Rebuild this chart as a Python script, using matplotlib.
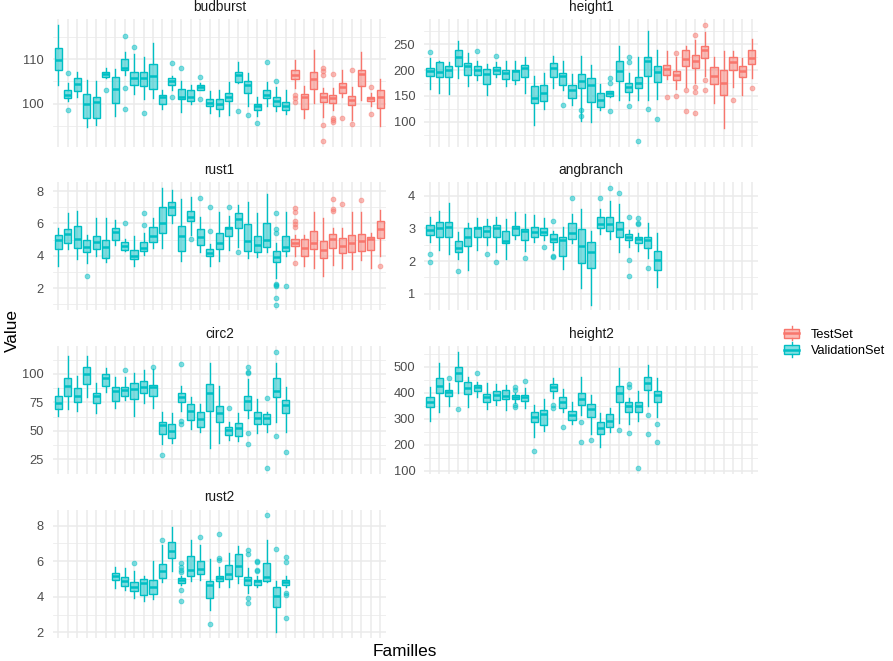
import matplotlib
matplotlib.use("Agg")
import matplotlib.pyplot as plt
from matplotlib.colors import to_rgba
from matplotlib.patches import Patch, Rectangle
from matplotlib.lines import Line2D
from matplotlib.legend_handler import HandlerBase

plt.rcParams['font.family'] = ['Liberation Sans', 'DejaVu Sans']

TEST_COLOR = '#F8766D'
VALID_COLOR = '#00BFC4'
GRID_COLOR = '#EBEBEB'

n_families = 35
test_families = list(range(26, 36))

# per family: (lower whisker, Q1, median, Q3, upper whisker)
budburst_first = 1
budburst_stats = [
    (104.3, 107.6, 109.7, 112.6, 117.7), (100.7, 101.3, 101.9, 103.1, 104.6),
    (101.6, 102.9, 104.4, 105.7, 107.2), (94.8, 96.9, 100.0, 102.2, 105.4),
    (95.2, 96.9, 100.4, 101.6, 105.0), (105.7, 106.0, 106.6, 107.1, 108.1),
    (97.3, 100.1, 103.3, 106.0, 107.8), (106.5, 107.6, 108.1, 110.0, 111.5),
    (102.2, 104.2, 105.7, 107.2, 111.2), (101.0, 103.9, 105.7, 107.2, 110.4),
    (101.2, 103.3, 106.3, 108.9, 113.6), (98.9, 99.9, 101.4, 102.0, 103.0),
    (103.1, 104.3, 105.0, 105.7, 106.2), (98.2, 101.0, 101.6, 103.3, 105.0),
    (100.0, 100.7, 101.5, 103.0, 104.3), (103.0, 103.1, 103.7, 104.2, 104.6),
    (97.9, 99.4, 100.1, 101.0, 102.8), (97.2, 98.9, 100.0, 101.0, 103.1),
    (97.5, 100.7, 101.5, 102.5, 104.8), (104.6, 104.8, 106.5, 107.1, 109.3),
    (99.4, 102.4, 104.2, 105.1, 106.9), (97.2, 98.5, 99.4, 99.9, 101.4),
    (99.4, 101.2, 102.0, 103.1, 104.8), (98.3, 99.4, 100.7, 101.6, 103.7),
    (97.7, 98.6, 99.4, 100.4, 103.1), (103.5, 105.5, 106.5, 107.5, 109.9),
    (96.7, 98.8, 101.4, 102.2, 103.9), (100.1, 103.3, 105.6, 107.2, 112.1),
    (97.0, 100.3, 101.4, 102.5, 103.5), (98.7, 100.1, 101.3, 102.0, 103.5),
    (101.6, 102.5, 103.7, 104.6, 107.6), (96.4, 99.8, 100.9, 101.8, 103.7),
    (100.9, 104.0, 106.7, 107.6, 111.7), (99.6, 100.7, 101.2, 101.6, 102.4),
    (95.1, 99.0, 101.4, 103.1, 105.5),
]
budburst_out = {
    2: [106.8, 98.6], 6: [103.1], 8: [115.2, 103.5, 98.8], 9: [112.8], 10: [97.9],
    13: [109.2, 101.4], 14: [108.1], 16: [106.1, 101.0], 20: [98.4], 21: [97.5],
    22: [95.7], 23: [109.3], 24: [105.1], 26: [101.9, 101.3, 100.3],
    29: [108.1, 107.4, 106.5, 95.3, 91.6], 30: [106.6, 96.8, 96.4, 96.0],
    31: [96.8], 32: [107.6, 95.5], 34: [103.7, 97.8],
}
budburst_ticks = [100, 110]

height1_first = 1
height1_stats = [
    (164.1, 189.1, 198.7, 203.8, 223.1), (155.8, 185.9, 196.2, 214.8, 216.7),
    (154.5, 185.9, 200.6, 207.1, 214.7), (184.6, 207.1, 225.0, 239.1, 256.4),
    (169.9, 190.4, 208.3, 213.5, 232.7), (181.4, 190.4, 200.0, 207.1, 216.7),
    (152.6, 173.7, 193.0, 201.9, 211.5), (186.5, 192.9, 200.6, 205.1, 214.7),
    (169.9, 183.3, 194.2, 200.6, 216.7), (173.7, 180.1, 197.4, 200.6, 218.0),
    (155.8, 186.5, 204.5, 210.3, 225.0), (94.9, 135.9, 146.2, 168.6, 187.8),
    (125.0, 141.0, 155.8, 171.8, 194.2), (165.4, 186.5, 203.8, 213.5, 226.3),
    (160.9, 171.8, 187.8, 194.2, 218.0), (132.4, 145.2, 162.2, 170.5, 192.9),
    (101.3, 165.4, 178.2, 192.9, 227.6), (99.4, 138.5, 171.8, 184.6, 209.0),
    (122.4, 128.2, 141.7, 155.8, 173.7), (148.0, 149.4, 155.8, 159.0, 160.0),
    (143.0, 178.2, 197.4, 216.7, 245.5), (143.0, 157.1, 167.3, 175.0, 194.2),
    (143.0, 165.4, 174.1, 186.9, 225.0), (143.0, 187.8, 216.7, 225.4, 274.4),
    (144.2, 177.6, 195.5, 207.1, 237.8), (182.7, 191.0, 201.9, 210.3, 235.9),
    (163.5, 181.4, 191.0, 198.7, 226.0), (167.3, 208.3, 221.2, 237.8, 246.8),
    (175.0, 204.5, 217.9, 229.5, 258.3), (187.8, 223.1, 239.1, 245.5, 272.4),
    (136.5, 173.7, 187.8, 205.1, 226.0), (88.5, 151.3, 175.0, 200.6, 235.9),
    (167.3, 200.6, 214.7, 224.4, 235.9), (152.6, 185.9, 198.7, 208.3, 223.1),
    (184.6, 212.2, 223.1, 237.8, 259.6),
]
height1_out = {
    1: [234.6], 6: [235.9], 8: [227.0], 15: [133.3], 17: [123.7, 112.2],
    20: [184.6, 175.0, 120.5], 22: [226.0, 215.7, 130.1], 23: [62.8], 24: [125.6],
    25: [105.8], 26: [148.7], 27: [232.7, 149.6], 28: [162.2, 120.5],
    29: [268.0, 167.7, 157.0, 117.3], 30: [287.2, 181.4, 161.6], 33: [142.3], 35: [164.7],
}
height1_ticks = [100, 150, 200, 250]

rust1_first = 1
rust1_stats = [
    (3.38, 4.43, 4.99, 5.29, 5.70), (4.41, 4.82, 5.33, 5.64, 6.63),
    (3.79, 4.47, 5.03, 5.85, 6.77), (3.55, 4.23, 4.53, 4.97, 5.29),
    (3.96, 4.43, 4.84, 5.25, 6.32), (3.59, 3.86, 4.53, 4.97, 6.32),
    (4.64, 4.99, 5.46, 5.70, 6.22), (4.27, 4.37, 4.62, 4.88, 5.03),
    (3.38, 3.79, 3.96, 4.37, 5.23), (4.04, 4.31, 4.47, 4.88, 5.40),
    (4.47, 4.88, 5.25, 5.75, 6.32), (4.47, 5.40, 6.05, 7.00, 8.17),
    (6.05, 6.53, 7.04, 7.31, 8.07), (3.65, 4.27, 5.25, 5.85, 7.49),
    (5.29, 6.16, 6.38, 6.79, 7.62), (4.21, 4.68, 5.15, 5.66, 6.42),
    (3.38, 3.96, 4.16, 4.43, 4.74), (3.69, 4.43, 4.78, 5.40, 6.73),
    (4.33, 5.23, 5.70, 5.81, 6.46), (4.57, 5.70, 6.28, 6.63, 7.14),
    (3.86, 4.27, 4.94, 5.97, 7.35), (3.92, 4.21, 4.64, 5.23, 6.63),
    (4.21, 4.53, 4.99, 6.05, 7.82), (2.62, 3.59, 3.92, 4.31, 4.78),
    (3.96, 4.27, 4.53, 5.25, 6.73), (4.00, 4.62, 4.82, 5.03, 5.29),
    (3.34, 3.96, 4.47, 5.03, 5.29), (3.24, 4.41, 4.82, 5.54, 6.73),
    (2.73, 3.86, 4.33, 4.94, 6.32), (3.45, 4.47, 5.03, 5.33, 5.70),
    (3.24, 4.16, 4.62, 5.09, 5.70), (3.18, 4.21, 4.78, 5.29, 6.73),
    (3.75, 4.27, 4.94, 5.36, 6.73), (3.24, 4.33, 5.03, 5.15, 5.40),
    (4.00, 5.09, 5.64, 6.16, 6.83),
]
rust1_out = {
    4: [2.73], 8: [6.01], 10: [6.67, 5.89], 15: [5.03], 16: [7.55], 17: [7.04, 5.54],
    19: [7.0], 20: [4.21], 24: [6.67, 5.64, 5.40, 2.26, 2.22, 2.16, 1.39, 0.98],
    25: [2.15], 26: [6.94, 6.69, 6.12, 5.97, 5.81, 3.55], 30: [7.51, 6.90, 6.79],
    31: [7.18], 33: [7.45], 35: [3.34],
}
rust1_ticks = [2, 4, 6, 8]

angbranch_first = 1
angbranch_stats = [
    (2.59, 2.80, 2.95, 3.09, 3.35), (2.34, 2.73, 3.00, 3.18, 3.54),
    (2.21, 2.75, 3.05, 3.20, 3.78), (2.07, 2.27, 2.39, 2.61, 2.88),
    (1.73, 2.47, 2.75, 3.00, 3.17), (2.34, 2.73, 3.00, 3.05, 3.30),
    (2.49, 2.73, 2.92, 3.07, 3.27), (2.29, 2.73, 3.00, 3.10, 3.35),
    (2.06, 2.54, 2.61, 2.93, 3.28), (2.67, 2.80, 3.00, 3.08, 3.49),
    (2.32, 2.63, 2.93, 2.97, 3.44), (2.59, 2.75, 2.88, 3.05, 3.41),
    (2.65, 2.80, 2.88, 3.02, 3.32), (2.34, 2.59, 2.68, 2.83, 2.93),
    (1.75, 2.14, 2.65, 2.72, 3.05), (2.56, 2.68, 2.85, 3.15, 3.43),
    (1.18, 1.94, 2.46, 2.97, 3.58), (0.67, 1.78, 2.29, 2.57, 2.92),
    (2.83, 3.00, 3.13, 3.33, 3.58), (2.68, 2.93, 3.13, 3.35, 3.84),
    (2.29, 2.75, 2.97, 3.20, 3.73), (2.44, 2.63, 2.75, 2.82, 2.95),
    (2.32, 2.54, 2.67, 2.72, 2.87), (2.09, 2.41, 2.63, 2.75, 3.17),
    (1.20, 1.73, 2.02, 2.32, 2.87),
]
angbranch_out = {
    1: [2.22, 1.96], 4: [1.70], 7: [2.21], 8: [1.96], 11: [2.09], 13: [2.42],
    14: [3.22, 2.16, 2.11], 16: [3.93], 19: [3.91], 20: [4.22], 21: [4.09],
    22: [3.35, 2.04, 1.53], 23: [3.30, 3.17, 3.12], 24: [1.78],
}
angbranch_ticks = [1, 2, 3, 4]

circ2_first = 1
circ2_stats = [
    (63.4, 69.2, 74.2, 80.9, 87.9), (69.2, 80.6, 89.7, 96.6, 115.6),
    (67.5, 75.1, 80.9, 87.9, 98.4), (79.4, 90.8, 99.6, 106.0, 115.6),
    (66.0, 74.2, 80.6, 82.9, 91.7), (84.4, 89.4, 96.1, 99.6, 105.4),
    (69.8, 76.2, 85.0, 88.2, 97.5), (77.1, 80.9, 85.6, 88.2, 97.5),
    (63.4, 78.0, 86.4, 92.3, 101.0), (74.2, 82.9, 88.8, 93.7, 103.1),
    (69.8, 80.6, 88.2, 90.2, 103.9), (38.3, 47.7, 55.2, 57.6, 66.3),
    (39.8, 44.2, 50.3, 55.8, 65.5), (67.5, 75.7, 79.4, 82.9, 89.4),
    (51.7, 59.6, 67.5, 73.6, 80.0), (49.4, 53.8, 60.2, 66.3, 73.6),
    (34.8, 67.5, 82.9, 91.1, 109.8), (39.2, 58.2, 65.5, 71.9, 89.4),
    (42.1, 46.5, 50.9, 53.8, 58.2), (41.3, 45.6, 52.3, 57.3, 65.5),
    (61.1, 68.4, 76.5, 80.9, 95.5), (48.5, 56.1, 61.1, 66.3, 77.7),
    (49.4, 56.1, 61.1, 64.6, 66.3), (58.2, 80.0, 85.3, 96.1, 109.2),
    (49.4, 65.5, 72.7, 77.1, 88.8),
]
circ2_out = {
    8: [103.1], 11: [105.7], 12: [29.0], 14: [108.6, 58.7, 56.1], 19: [69.8],
    21: [106.3, 101.9, 100.5, 48.5, 38.6], 23: [79.1, 17.3], 24: [119.4, 45.6],
    25: [31.9],
}
circ2_ticks = [25, 50, 75, 100]

height2_first = 1
height2_stats = [
    (292.0, 344.6, 362.5, 383.1, 423.1), (326.9, 397.4, 427.0, 455.1, 516.4),
    (349.7, 385.6, 401.3, 410.3, 435.9), (397.4, 444.9, 476.9, 500.0, 557.7),
    (346.2, 394.6, 417.7, 440.7, 459.0), (384.6, 404.8, 420.2, 428.0, 442.3),
    (337.2, 362.5, 383.1, 394.6, 438.5), (352.6, 372.8, 391.0, 407.7, 432.1),
    (333.3, 375.6, 387.2, 408.9, 429.5), (362.0, 375.6, 384.6, 391.0, 400.0),
    (342.3, 368.0, 384.6, 391.0, 416.7), (228.0, 286.9, 306.4, 326.9, 352.6),
    (253.6, 275.6, 316.7, 333.3, 376.6), (380.8, 407.7, 423.1, 434.6, 455.1),
    (326.9, 342.3, 365.4, 383.1, 413.8), (279.2, 294.9, 314.1, 330.5, 365.4),
    (312.4, 352.6, 375.6, 397.4, 458.7), (240.7, 304.8, 336.5, 357.7, 389.7),
    (192.3, 240.0, 262.8, 285.6, 320.5), (250.0, 267.7, 292.0, 316.7, 339.7),
    (282.1, 362.8, 397.4, 425.6, 493.6), (280.8, 324.4, 350.0, 362.5, 378.2),
    (292.0, 324.4, 350.0, 362.5, 407.7), (349.7, 410.3, 435.9, 460.0, 506.4),
    (307.7, 362.5, 391.0, 404.8, 455.1),
]
height2_out = {
    3: [455.1], 4: [336.5], 6: [477.9], 10: [423.1, 410.3, 352.6, 346.2],
    11: [444.9], 12: [175.6], 14: [352.6, 339.7], 15: [267.7], 17: [285.6, 208.7],
    18: [217.9], 21: [256.4], 22: [432.1, 423.1, 246.2], 23: [109.0],
    24: [314.1, 240.7], 25: [279.2, 211.5],
}
height2_ticks = [100, 200, 300, 400, 500]

rust2_first = 7
rust2_stats = [
    (4.49, 4.96, 5.19, 5.34, 5.70), (4.38, 4.58, 4.91, 5.09, 5.62),
    (3.96, 4.34, 4.57, 4.81, 5.47), (3.74, 4.11, 4.77, 5.00, 5.19),
    (3.87, 4.15, 4.53, 4.94, 6.00), (4.81, 5.06, 5.47, 5.85, 6.92),
    (5.43, 6.17, 6.60, 7.08, 7.92), (4.68, 4.77, 4.94, 5.04, 5.19),
    (4.87, 5.19, 5.51, 6.32, 7.21), (4.96, 5.28, 5.57, 6.00, 6.89),
    (3.25, 3.96, 4.66, 4.87, 6.13), (4.57, 4.87, 5.04, 5.19, 5.66),
    (4.57, 5.00, 5.28, 5.79, 6.45), (4.75, 5.15, 5.72, 6.38, 6.83),
    (4.21, 4.68, 4.94, 5.09, 5.62), (4.57, 4.68, 4.87, 4.96, 5.19),
    (4.81, 4.91, 5.09, 5.89, 7.21), (2.04, 3.43, 4.02, 4.53, 4.91),
    (4.57, 4.68, 4.81, 4.94, 5.19),
]
rust2_out = {
    9: [5.89], 12: [7.21], 14: [5.89, 5.66, 5.51, 5.42, 4.38, 3.77], 16: [7.36],
    17: [2.49], 18: [7.55, 6.17, 6.09], 21: [6.64, 6.42, 3.92, 3.68],
    22: [6.04, 5.98, 5.51, 5.47], 23: [8.58], 24: [6.70],
    25: [6.23, 5.94, 4.21, 4.11, 2.83],
}
rust2_ticks = [2, 4, 6, 8]

panels = [
    ('budburst', budburst_first, budburst_stats, budburst_out, budburst_ticks),
    ('height1', height1_first, height1_stats, height1_out, height1_ticks),
    ('rust1', rust1_first, rust1_stats, rust1_out, rust1_ticks),
    ('angbranch', angbranch_first, angbranch_stats, angbranch_out, angbranch_ticks),
    ('circ2', circ2_first, circ2_stats, circ2_out, circ2_ticks),
    ('height2', height2_first, height2_stats, height2_out, height2_ticks),
    ('rust2', rust2_first, rust2_stats, rust2_out, rust2_ticks),
]
set_colors = {'ValidationSet': VALID_COLOR, 'TestSet': TEST_COLOR}


def draw_panel(ax, name, first, stats, outliers, ticks):
    groups = {'ValidationSet': [], 'TestSet': []}
    for fam, (lo, q1, med, q3, hi) in enumerate(stats, start=first):
        d = dict(whislo=lo, q1=q1, med=med, q3=q3, whishi=hi,
                 fliers=outliers.get(fam, []))
        key = 'TestSet' if fam in test_families else 'ValidationSet'
        groups[key].append((fam - 1, d))

    for key, items in groups.items():
        if not items:
            continue
        col = set_colors[key]
        ax.bxp([d for _, d in items], positions=[p for p, _ in items],
               widths=0.75, patch_artist=True, showcaps=False, manage_ticks=False,
               boxprops=dict(facecolor=to_rgba(col, 0.5), edgecolor=col, linewidth=1.0),
               whiskerprops=dict(color=col, linewidth=1.0),
               medianprops=dict(color=col, linewidth=1.8),
               flierprops=dict(marker='o', markersize=3.4, linestyle='none',
                               markerfacecolor=to_rgba(col, 0.5),
                               markeredgecolor=to_rgba(col, 0.5),
                               markeredgewidth=0.7),
               zorder=3)

    vals = [v for s in stats for v in s] + [v for o in outliers.values() for v in o]
    vmin, vmax = min(vals), max(vals)
    pad = 0.05 * (vmax - vmin)
    ymin, ymax = vmin - pad, vmax + pad
    ax.set_ylim(ymin, ymax)
    ax.set_xlim(-0.6, n_families - 1 + 0.6)

    ax.set_xticks(range(n_families))
    ax.set_xticklabels([])
    ax.set_yticks(ticks)
    ax.set_yticklabels([f'{t:g}' for t in ticks])
    step = ticks[1] - ticks[0]
    minors = [t + step / 2 for t in [ticks[0] - step] + ticks]
    ax.set_yticks([m for m in minors if ymin <= m <= ymax], minor=True)

    ax.tick_params(which='both', length=0)
    ax.tick_params(axis='y', labelsize=9.3, labelcolor='#4D4D4D', pad=6.5)
    ax.set_axisbelow(True)
    ax.grid(True, which='major', color=GRID_COLOR, linewidth=1.1)
    ax.grid(True, which='minor', axis='y', color=GRID_COLOR, linewidth=0.55)
    for sp in ax.spines.values():
        sp.set_visible(False)
    ax.set_title(name, fontsize=9.8, color='#1A1A1A', pad=5.8)


class BoxKeyHandler(HandlerBase):
    """Draws a small boxplot glyph as legend key, like ggplot."""

    def create_artists(self, legend, orig_handle, xdescent, ydescent,
                       width, height, fontsize, trans):
        col = orig_handle.get_edgecolor()
        x0, y0 = -xdescent, -ydescent
        cx = x0 + width / 2
        box = Rectangle((x0, y0 + 0.2 * height), width, 0.6 * height,
                        facecolor=orig_handle.get_facecolor(), edgecolor=col,
                        linewidth=1.0, transform=trans)
        top = Line2D([cx, cx], [y0 + 0.8 * height, y0 + height], color=col,
                     linewidth=1.0, transform=trans)
        bottom = Line2D([cx, cx], [y0, y0 + 0.2 * height], color=col,
                        linewidth=1.0, transform=trans)
        med = Line2D([x0, x0 + width], [y0 + 0.5 * height] * 2, color=col,
                     linewidth=1.8, transform=trans)
        return [top, bottom, box, med]


W, H = 893, 661
fig = plt.figure(figsize=(W / 100, H / 100), dpi=100)

col_left = [52.6, 424.3]
row_top = [19, 182.5, 346, 509.5]
panel_w, panel_h = 333.3, 128

for i, (name, first, stats, outliers, ticks) in enumerate(panels):
    r, c = divmod(i, 2)
    ax = fig.add_axes([col_left[c] / W, 1 - (row_top[r] + panel_h) / H,
                       panel_w / W, panel_h / H])
    draw_panel(ax, name, first, stats, outliers, ticks)

fig.text(405 / W, 1 - 651 / H, 'Familles', ha='center', va='center', fontsize=12.4)
fig.text(12 / W, 1 - 330 / H, 'Value', ha='center', va='center', rotation=90,
         fontsize=12.4)

handles = [
    Patch(facecolor=to_rgba(TEST_COLOR, 0.5), edgecolor=TEST_COLOR, label='TestSet'),
    Patch(facecolor=to_rgba(VALID_COLOR, 0.5), edgecolor=VALID_COLOR,
          label='ValidationSet'),
]
fig.legend(handles=handles, handler_map={Patch: BoxKeyHandler()},
           loc='center left', bbox_to_anchor=(784 / W, 1 - 341.5 / H),
           frameon=False, fontsize=9.2, handlelength=1.2, handleheight=1.35,
           handletextpad=0.9, labelspacing=0.15, borderpad=0, borderaxespad=0)

fig.savefig('out.png', dpi=100)
